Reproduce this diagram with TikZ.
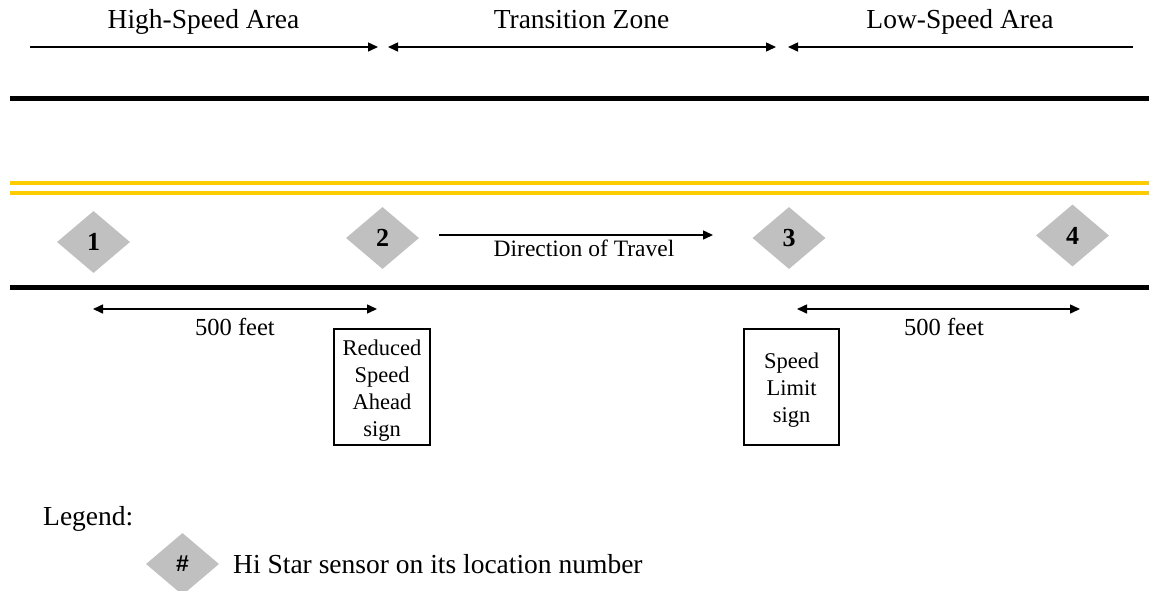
\documentclass[tikz,border=0pt]{standalone}
\usepackage{fontspec}
\setmainfont{Liberation Serif}
\newfontfamily\legendsans{Liberation Sans}
\usetikzlibrary{shapes.geometric,arrows.meta}

\definecolor{sensorgray}{HTML}{C0C0C0}
\definecolor{centerline}{HTML}{FFCC00}

\tikzset{
  >={Triangle[length=10pt,width=9pt]},
  zonearrow/.style={line width=1.5pt},
  roadedge/.style={line width=4.5pt, black},
  yellowline/.style={line width=4pt, centerline},
  sensor/.style={diamond, fill=sensorgray, draw=none, inner sep=0pt,
    minimum width=73pt, minimum height=62pt, shape aspect=1.18,
    font=\fontsize{26}{30}\selectfont\bfseries},
  zonelabel/.style={anchor=base, font=\fontsize{27.5}{33}\selectfont},
  distlabel/.style={anchor=base, font=\fontsize{24.5}{29}\selectfont},
  signbox/.style={draw, line width=1.2pt, minimum height=116pt, inner sep=0pt},
  signtext/.style={inner sep=0pt, align=center, font=\fontsize{22.5}{27}\selectfont},
}

\begin{document}
\begin{tikzpicture}[x=1pt,y=-1pt]
\path[use as bounding box, clip] (0,0) rectangle (1149,590);
\fill[white] (0,0) rectangle (1149,590);

% zone labels and extents
\node[zonelabel] (zhigh) at (203.5,28) {High-Speed Area};
\node[zonelabel] (ztrans) at (581.5,28) {Transition Zone};
\node[zonelabel] (zlow) at (960,28) {Low-Speed Area};

\coordinate (h1) at (30,47);
\coordinate (h2) at (378,47);
\coordinate (t1) at (388,47);
\coordinate (t2) at (776,47);
\coordinate (l1) at (788,47);
\coordinate (l2) at (1133,47);
\draw[zonearrow, ->] (h1) -- (h2);
\draw[zonearrow, <->] (t1) -- (t2);
\draw[zonearrow, <-] (l1) -- (l2);

% road
\coordinate (e1a) at (10,98.5);   \coordinate (e1b) at (1149,98.5);
\coordinate (y1a) at (10,182.7);  \coordinate (y1b) at (1149,182.7);
\coordinate (y2a) at (10,193.3);  \coordinate (y2b) at (1149,193.3);
\coordinate (e2a) at (10,287.5);  \coordinate (e2b) at (1149,287.5);
\draw[roadedge] (e1a) -- (e1b);
\draw[yellowline] (y1a) -- (y1b);
\draw[yellowline] (y2a) -- (y2b);
\draw[roadedge] (e2a) -- (e2b);

% sensors
\node[sensor] (s1) at (93.5,242) {1};
\node[sensor] (s2) at (382.5,238) {2};
\node[sensor] (s3) at (789,238) {3};
\node[sensor] (s4) at (1072.5,235.5) {4};

% direction of travel
\coordinate (d1) at (439,235);
\coordinate (d2) at (713,235);
\draw[zonearrow, ->] (d1) -- (d2);
\node[anchor=base, font=\fontsize{23.5}{28}\selectfont] (dir) at (584,256.7) {Direction of Travel};

% distances
\coordinate (a1) at (93,309);
\coordinate (a2) at (377,309);
\coordinate (b1) at (797,309);
\coordinate (b2) at (1080,309);
\draw[zonearrow, <->] (a1) -- (a2);
\draw[zonearrow, <->] (b1) -- (b2);
\node[distlabel] (da) at (235,335) {500 feet};
\node[distlabel] (db) at (944,335) {500 feet};

% signs
\node[signbox, minimum width=96pt] (sign1) at (382,387) {};
\node[signtext] (sign1t) at ([yshift=-4pt]sign1.center) {Reduced\\Speed\\Ahead\\sign};
\node[signbox, minimum width=95pt] (sign2) at (791.5,387) {};
\node[signtext] (sign2t) at ([yshift=-3pt]sign2.center) {Speed\\Limit\\sign};

% legend
\node[anchor=base west, inner sep=0pt, font=\fontsize{27.5}{33}\selectfont] (leg) at (43,525) {Legend:};
\node[sensor, font=\legendsans\fontsize{23}{27}\selectfont\bfseries] (ls) at (182.5,564) {\#};
\node[anchor=base west, inner sep=0pt, font=\fontsize{27.5}{33}\selectfont] (ltext) at (233,573) {Hi Star sensor on its location number};
\end{tikzpicture}
\end{document}
